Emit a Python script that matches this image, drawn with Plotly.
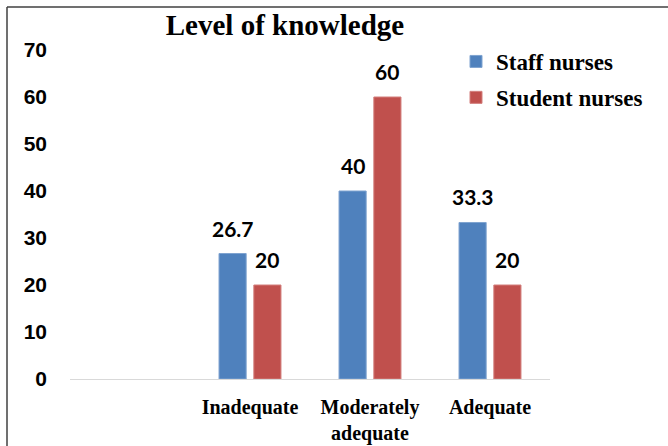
import plotly.graph_objects as go

categories = [" ", "Inadequate", "Moderately<br>adequate", "Adequate"]
staff_nurses = [None, 26.7, 40, 33.3]
student_nurses = [None, 20, 60, 20]
staff_labels = ["", "26.7", "40", "33.3"]
student_labels = ["", "20", "60", "20"]
y_ticks = [0, 10, 20, 30, 40, 50, 60, 70]

W, H = 668, 446
ML, MR, MT, MB = 70, 118, 50, 67
PW, PH = W - ML - MR, H - MT - MB
BARGAP = 0.42

def px_x(p):
    return (p - ML) / PW

def px_y(p):
    return (H - MB - p) / PH

label_font = dict(family="Lato, Open Sans, sans-serif", size=21, color="black", weight="bold")

fig = go.Figure()
fig.add_trace(go.Bar(
    x=categories, y=staff_nurses, name="Staff nurses",
    marker=dict(color="#4F81BD", line=dict(color="#7FA3D0", width=1)),
    legendgroup="a",
))
fig.add_trace(go.Bar(
    x=categories, y=student_nurses, name="Student nurses",
    marker=dict(color="#C0504D", line=dict(color="#D37F7D", width=1)),
    legendgroup="b",
))

# data labels above each bar (offset to the bar's slot within its group)
slot = PW / len(categories) * (1 - BARGAP) / 2
annotations = []
for series, labels, shift in ((staff_nurses, staff_labels, -slot / 2),
                              (student_nurses, student_labels, slot / 2)):
    for cat, val, lab in zip(categories, series, labels):
        if val is None:
            continue
        annotations.append(dict(
            x=cat, y=val, xref="x", yref="y", text=lab, showarrow=False,
            xanchor="center", yanchor="bottom", xshift=shift, yshift=11,
            font=label_font,
        ))

fig.update_layout(
    width=W, height=H,
    margin=dict(l=ML, r=MR, t=MT, b=MB, autoexpand=False),
    paper_bgcolor="white", plot_bgcolor="white",
    barmode="group", bargap=BARGAP, bargroupgap=0.22,
    annotations=annotations,
    title=dict(text="Level of knowledge", x=px_x(285), xref="paper", xanchor="center",
               y=1 - 25 / H, yanchor="middle",
               font=dict(family="Liberation Serif, Times New Roman, serif", size=29,
                         color="black", weight="bold")),
    legend=dict(x=px_x(456), y=px_y(40), xanchor="left", yanchor="top",
                traceorder="grouped", tracegroupgap=3,
                font=dict(family="Liberation Serif, Times New Roman, serif", size=23,
                          color="black", weight="bold"),
                bgcolor="rgba(0,0,0,0)"),
    xaxis=dict(showline=True, linecolor="#D9D9D9", linewidth=1, showgrid=False,
               ticks="", ticklabelstandoff=10, automargin=False,
               tickfont=dict(family="Liberation Serif, Times New Roman, serif", size=20,
                             color="black", weight="bold")),
    yaxis=dict(range=[0, 70], tickvals=y_ticks, showgrid=False, zeroline=False,
               showline=False, ticks="", ticklabelstandoff=22, automargin=False,
               tickfont=dict(family="Liberation Sans, Arial, sans-serif", size=21,
                             color="black", weight="bold")),
    shapes=[
        dict(type="line", xref="paper", yref="paper",
             x0=px_x(7), x1=px_x(7), y0=px_y(7), y1=px_y(H + 5),
             line=dict(color="#404040", width=1.5)),
        dict(type="line", xref="paper", yref="paper",
             x0=px_x(7), x1=px_x(W + 5), y0=px_y(7), y1=px_y(7),
             line=dict(color="#404040", width=1.5)),
    ],
)

fig.write_html("out.html", config={"displayModeBar": False},
               post_script="document.body.style.margin='0px';")
